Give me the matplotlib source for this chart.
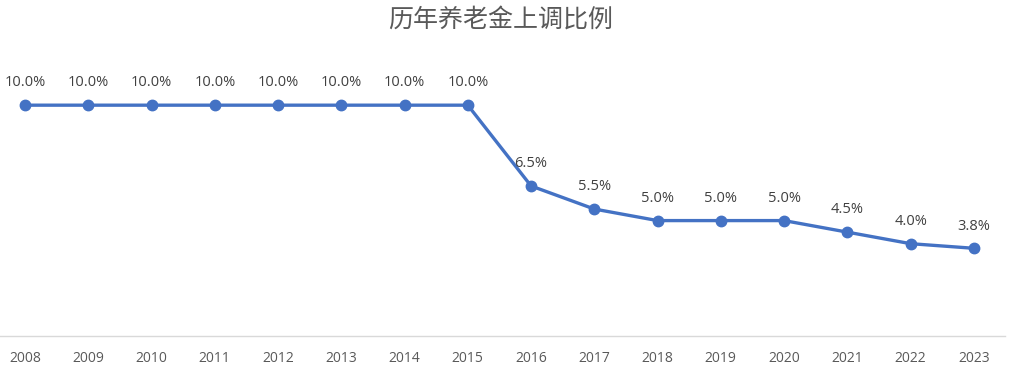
import matplotlib
matplotlib.use('Agg')
import matplotlib.pyplot as plt

plt.rcParams['font.family'] = ['Noto Sans CJK SC', 'DejaVu Sans']

# 数据
years = ['2008', '2009', '2010', '2011', '2012', '2013', '2014', '2015',
         '2016', '2017', '2018', '2019', '2020', '2021', '2022', '2023']
rates = [10.0, 10.0, 10.0, 10.0, 10.0, 10.0, 10.0, 10.0,
         6.5, 5.5, 5.0, 5.0, 5.0, 4.5, 4.0, 3.8]
labels = ['10.0%'] * 8 + ['6.5%', '5.5%', '5.0%', '5.0%', '5.0%', '4.5%', '4.0%', '3.8%']

fig = plt.figure(figsize=(10.11, 3.70), dpi=100)
ax = fig.add_axes([-0.0065, 0.0919, 1.001, 0.7486])

x = list(range(len(years)))
ax.plot(x, rates, color='#4472C4', linewidth=2.4, marker='o', markersize=7.5, zorder=3)

for xi, v, lab in zip(x, rates, labels):
    ax.annotate(lab, (xi, v), xytext=(0, 16), textcoords='offset points',
                ha='center', va='center', fontsize=10.5, color='#404040',
                family=['Open Sans', 'DejaVu Sans'])

ax.set_xlim(-0.5, len(years) - 0.5)
ax.set_ylim(0, 12)
ax.set_xticks(x)
ax.set_xticklabels(years, fontsize=10, color='#595959', family=['Open Sans', 'DejaVu Sans'])
ax.tick_params(axis='x', length=0, pad=11)
ax.set_yticks([])
for s in ['top', 'right', 'left']:
    ax.spines[s].set_visible(False)
ax.spines['bottom'].set_color('#D9D9D9')
ax.spines['bottom'].set_linewidth(1)

fig.text(0.495, 0.948, '历年养老金上调比例', ha='center', va='center',
         fontsize=18, color='#595959')

fig.savefig('out.png', dpi=100)
